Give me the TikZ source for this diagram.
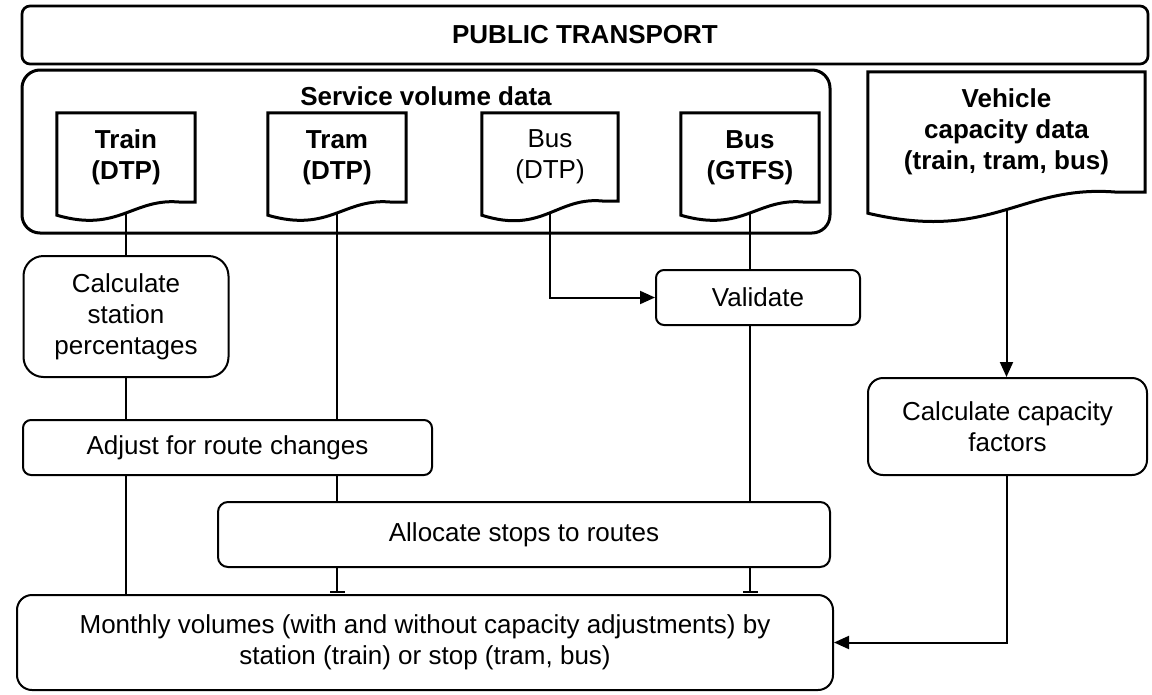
\documentclass[tikz,border=0pt]{standalone}
\usepackage{fontspec}
\setmainfont{Liberation Sans}
\usetikzlibrary{calc,arrows.meta}
\pgfdeclarelayer{wires}
\pgfdeclarelayer{sheets}
\pgfsetlayers{wires,sheets,main}

\tikzset{
  every node/.style={font=\fontsize{26}{31}\selectfont, align=center, inner sep=0pt},
  boldtext/.style={font=\fontsize{26}{31}\selectfont\bfseries},
  procbox/.style={draw, line width=2pt},
  sheetline/.style={draw, line width=3pt, fill=white, line join=miter},
  wire/.style={line width=2pt},
  flow/.style={wire, -{Triangle[length=15pt,width=13pt]}},
  stub/.style={wire, -{Bar[width=15pt]}, shorten >=1pt}
}

% document symbol: rectangle with a wavy lower edge hanging below the node
\newcommand{\sheetoutline}[2]{%
  \draw[sheetline]
    (#1.south east) -- (#1.north east) -- (#1.north west)
    -- ($(#1.south west)+(0,#2)$)
    .. controls ($(#1.south west)!0.45!(#1.south east)+(0,2.4*#2)$)
       and ($(#1.south west)!0.55!(#1.south east)+(0,-0.4*#2)$)
    .. ($(#1.south west)!0.9!(#1.south east)$) -- cycle;
}

\begin{document}
\begin{tikzpicture}[x=1pt,y=-1pt]
\useasboundingbox (0,0) rectangle (1152,694);

% header band
\node[draw, line width=2.7pt, rounded corners=8pt, minimum width=1126pt, minimum height=58pt, boldtext]
  (band) at (585,35) {PUBLIC TRANSPORT};

% service volume group
\node[draw, line width=3pt, rounded corners=18pt, minimum width=808pt, minimum height=163pt]
  (svc) at (426,151.5) {};
\node[boldtext, anchor=base] (svctitle) at (426,105) {Service volume data};

% data sources
\node[minimum width=138pt, minimum height=89pt, boldtext] (train) at (126,157.5) {Train\\(DTP)};
\node[minimum width=138pt, minimum height=89pt, boldtext] (tram) at (337,157.5) {Tram\\(DTP)};
\node[minimum width=136pt, minimum height=88pt] (busd) at (550,157) {Bus\\(DTP)};
\node[minimum width=138pt, minimum height=89pt, boldtext] (gtfs) at (750,157.5) {Bus\\(GTFS)};
\node[minimum width=277pt, minimum height=120pt, boldtext] (veh) at (1006.5,132)
  {Vehicle\\capacity data\\(train, tram, bus)};

% processing steps
\node[procbox, rounded corners=20pt, minimum width=205pt, minimum height=121pt]
  (calcst) at (126,316.5) {Calculate\\station\\percentages};
\node[procbox, rounded corners=8pt, minimum width=409pt, minimum height=55pt]
  (adjust) at (227.5,447.5) {Adjust for route changes};
\node[procbox, rounded corners=8pt, minimum width=204pt, minimum height=55pt]
  (valid) at (758,297.5) {Validate};
\node[procbox, rounded corners=10pt, minimum width=612pt, minimum height=65pt]
  (alloc) at (524,534.5) {Allocate stops to routes};
\node[procbox, rounded corners=15pt, minimum width=279pt, minimum height=97pt]
  (calccap) at (1007.5,426.5) {Calculate capacity\\factors};
\node[procbox, rounded corners=15pt, minimum width=816pt, minimum height=95pt]
  (monthly) at (425,642.5)
  {Monthly volumes (with and without capacity adjustments) by\\station (train) or stop (tram, bus)};

\begin{pgfonlayer}{sheets}
  \sheetoutline{train}{13}
  \sheetoutline{tram}{13}
  \sheetoutline{busd}{14}
  \sheetoutline{gtfs}{13}
  \sheetoutline{veh}{21}
\end{pgfonlayer}

\begin{pgfonlayer}{wires}
  % train
  \draw[wire] (train.south) -- (train.south |- calcst.north);
  \draw[wire] (calcst.south) -- (calcst.south |- adjust.north);
  \draw[wire] (adjust.south -| calcst.south) -- (monthly.north -| calcst.south);
  % tram
  \draw[wire] (tram.south) -- (tram.south |- adjust.north);
  \draw[wire] (adjust.south -| tram.south) -- (alloc.north -| tram.south);
  \draw[stub] (alloc.south -| tram.south) -- (monthly.north -| tram.south);
  % bus
  \draw[flow] (busd.south) |- (valid.west);
  \draw[wire] (gtfs.south) -- (gtfs.south |- valid.north);
  \draw[wire] (valid.south -| gtfs.south) -- (alloc.north -| gtfs.south);
  \draw[stub] (alloc.south -| gtfs.south) -- (monthly.north -| gtfs.south);
  % vehicle capacity
  \draw[flow] (veh.south) -- (veh.south |- calccap.north);
  \draw[flow] (calccap.south -| veh.south) |- (monthly.east);
\end{pgfonlayer}
\end{tikzpicture}
\end{document}
